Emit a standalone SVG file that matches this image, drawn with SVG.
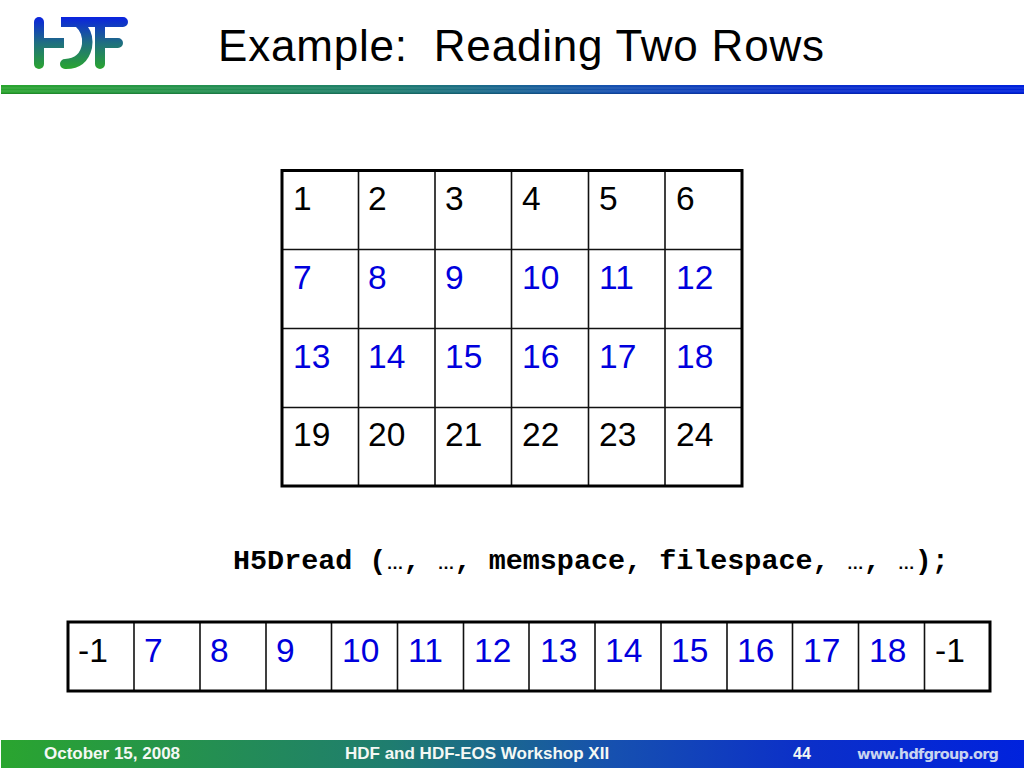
<svg xmlns="http://www.w3.org/2000/svg" width="1024" height="768" viewBox="0 0 1024 768">
<style>
text{font-family:"Liberation Sans",Arial,sans-serif}
.c{font-size:33.500px;fill:#000}
.b{fill:#0000dd}
.grid{stroke:#111;stroke-width:1.6;fill:none}
.frame{stroke:#000;stroke-width:3;fill:none}
.f{font-size:17px;font-weight:bold;fill:#f4f8f4}
.e{font-family:"Liberation Sans",Arial,sans-serif;font-size:17.050px}
</style>
<defs>
<linearGradient id="bar" x1="0" x2="1" y1="0" y2="0"><stop offset="0" stop-color="#2aa52f"/><stop offset="0.38" stop-color="#1f7d6f"/><stop offset="0.6" stop-color="#1650b0"/><stop offset="0.78" stop-color="#0c30c8"/><stop offset="1" stop-color="#0022dd"/></linearGradient>
<linearGradient id="logo" gradientUnits="userSpaceOnUse" x1="0" x2="0" y1="17" y2="69"><stop offset="0" stop-color="#0a22e0"/><stop offset="0.5" stop-color="#1f6f80"/><stop offset="1" stop-color="#2aa52f"/></linearGradient>
</defs>
<rect width="1024" height="768" fill="#fff"/>
<g id="logo-mark" fill="url(#logo)">
<rect x="34" y="17" width="10" height="52" rx="5"/>
<rect x="34" y="38" width="30" height="10"/>
<path d="M61 17H123a5 5 0 0 1 0 10H105V38H118a5 5 0 0 1 0 10H105V64a5 5 0 0 1-10 0V27H88Q94 35 92 48Q87 69 66 69H65a5 5 0 0 1 0-10Q80 58 82 44Q83 33 76 27H61Z"/>
</g>
<text x="218" y="61" font-size="44" fill="#000" textLength="606" lengthAdjust="spacing" xml:space="preserve">Example:  Reading Two Rows</text>
<g id="title-rule">
<rect x="1" y="85" width="1023" height="9" fill="url(#bar)"/>
<path d="M1 88H1024M1 91H1024" stroke="#fff" stroke-opacity="0.14" stroke-width="1"/>
<path d="M1 93.500H1024" stroke="#000" stroke-opacity="0.15" stroke-width="1"/>
</g>
<g id="table-top">
<rect x="282" y="170.500" width="460" height="315.500" fill="#fff"/>
<path class="grid" d="M358.500 171V486M435 171V486M511.500 171V486M588.500 171V486M665 171V486M282 249.500H742M282 328.500H742M282 407.500H742"/>
<rect class="frame" x="282" y="170.500" width="460" height="315.500"/>
<text class="c" x="293" y="209.500">1</text><text class="c" x="368" y="209.500">2</text><text class="c" x="445" y="209.500">3</text><text class="c" x="522" y="209.500">4</text><text class="c" x="599" y="209.500">5</text><text class="c" x="676" y="209.500">6</text>
<text class="c b" x="293" y="288.500">7</text><text class="c b" x="368" y="288.500">8</text><text class="c b" x="445" y="288.500">9</text><text class="c b" x="522" y="288.500">10</text><text class="c b" x="599" y="288.500">11</text><text class="c b" x="676" y="288.500">12</text>
<text class="c b" x="293" y="367.500">13</text><text class="c b" x="368" y="367.500">14</text><text class="c b" x="445" y="367.500">15</text><text class="c b" x="522" y="367.500">16</text><text class="c b" x="599" y="367.500">17</text><text class="c b" x="676" y="367.500">18</text>
<text class="c" x="293" y="445.500">19</text><text class="c" x="368" y="445.500">20</text><text class="c" x="445" y="445.500">21</text><text class="c" x="522" y="445.500">22</text><text class="c" x="599" y="445.500">23</text><text class="c" x="676" y="445.500">24</text>
</g>
<text id="code" x="233" y="569" style="font-family:'Liberation Mono',monospace" font-size="28.420" font-weight="bold" fill="#000">H5Dread (<tspan class="e">…</tspan>, <tspan class="e">…</tspan>, memspace, filespace, <tspan class="e">…</tspan>, <tspan class="e">…</tspan>);</text>
<g id="table-bottom">
<rect x="68" y="622" width="922" height="69" fill="#fff"/>
<path class="grid" d="M134 622V691M200 622V691M266 622V691M331.500 622V691M397.500 622V691M463.500 622V691M529 622V691M595 622V691M661 622V691M727 622V691M792.500 622V691M858.500 622V691M924.500 622V691"/>
<rect class="frame" x="68" y="622" width="922" height="69"/>
<text class="c" x="78" y="661.500">-1</text><text class="c b" x="144" y="661.500">7</text><text class="c b" x="210" y="661.500">8</text><text class="c b" x="276" y="661.500">9</text><text class="c b" x="342" y="661.500">10</text><text class="c b" x="408" y="661.500">11</text><text class="c b" x="474" y="661.500">12</text><text class="c b" x="540" y="661.500">13</text><text class="c b" x="605" y="661.500">14</text><text class="c b" x="671" y="661.500">15</text><text class="c b" x="737" y="661.500">16</text><text class="c b" x="803" y="661.500">17</text><text class="c b" x="869" y="661.500">18</text><text class="c" x="935" y="661.500">-1</text>
</g>
<g id="footer">
<rect x="1" y="740" width="1023" height="28" fill="url(#bar)"/>
<text class="f" x="44" y="759">October 15, 2008</text>
<text class="f" x="345" y="759">HDF and HDF-EOS Workshop XII</text>
<text class="f" x="793" y="759" style="font-size:16px">44</text>
<text x="857" y="759" font-size="14.500" font-weight="bold" fill="#c8d4f0" style="font-family:'DejaVu Sans',sans-serif" textLength="142">www.hdfgroup.org</text>
</g>
</svg>
